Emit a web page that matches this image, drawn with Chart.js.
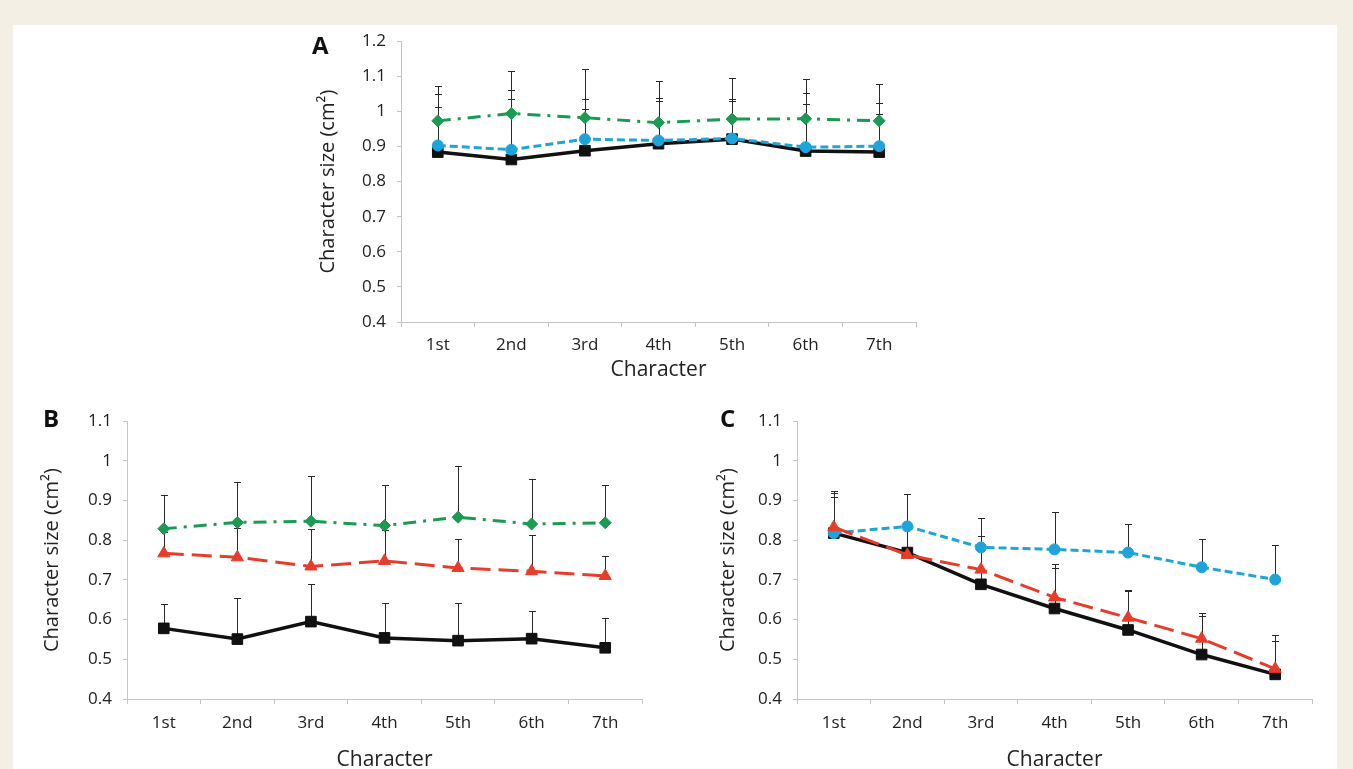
<!DOCTYPE html>
<html>
<head>
<meta charset="utf-8">
<script src="https://cdn.jsdelivr.net/npm/chart.js@4.4.0/dist/chart.umd.min.js"></script>
<style>
  html, body { margin: 0; padding: 0; width: 1353px; height: 769px; overflow: hidden; background: #f3efe5; }
  #panel { position: absolute; left: 13px; top: 25px; width: 1324px; height: 760px; background: #fff; }
  canvas { position: absolute; }
  .tag { position: absolute; font-family: "Open Sans"; font-weight: bold; line-height: 1; color: #111; }
</style>
</head>
<body>
<div id="panel"></div>
<canvas id="chartA" width="630" height="370" style="left:300px;top:20px"></canvas>
<canvas id="chartB" width="640" height="380" style="left:20px;top:400px"></canvas>
<canvas id="chartC" width="640" height="380" style="left:700px;top:400px"></canvas>
<div class="tag" style="left:312px;top:33px;font-size:24px">A</div>
<div class="tag" style="left:43px;top:406px;font-size:24px">B</div>
<div class="tag" style="left:720px;top:406px;font-size:24px">C</div>
<script>
const categories = ['1st', '2nd', '3rd', '4th', '5th', '6th', '7th'];

// panel A
const aBlack = [0.884, 0.863, 0.888, 0.908, 0.921, 0.887, 0.884];
const aBlackSd = [0.129, 0.173, 0.120, 0.122, 0.110, 0.133, 0.110];
const aBlue = [0.903, 0.891, 0.921, 0.917, 0.923, 0.898, 0.901];
const aBlueSd = [0.147, 0.169, 0.115, 0.122, 0.111, 0.155, 0.124];
const aGreen = [0.973, 0.994, 0.982, 0.968, 0.978, 0.979, 0.973];
const aGreenSd = [0.098, 0.120, 0.140, 0.120, 0.116, 0.113, 0.104];

// panel B
const bBlack = [0.578, 0.551, 0.595, 0.554, 0.547, 0.552, 0.529];
const bBlackSd = [0.061, 0.104, 0.096, 0.088, 0.095, 0.071, 0.076];
const bRed = [0.767, 0.757, 0.734, 0.748, 0.730, 0.722, 0.710];
const bRedSd = [0.053, 0.073, 0.095, 0.077, 0.072, 0.090, 0.051];
const bGreen = [0.829, 0.845, 0.848, 0.837, 0.858, 0.841, 0.844];
const bGreenSd = [0.086, 0.103, 0.115, 0.101, 0.129, 0.114, 0.094];

// panel C
const cBlack = [0.818, 0.769, 0.689, 0.628, 0.574, 0.512, 0.462];
const cBlackSd = [0.092, 0.061, 0.091, 0.101, 0.098, 0.098, 0.083];
const cRed = [0.833, 0.763, 0.726, 0.656, 0.605, 0.552, 0.476];
const cRedSd = [0.092, 0.072, 0.084, 0.084, 0.070, 0.065, 0.086];
const cBlue = [0.818, 0.835, 0.782, 0.777, 0.769, 0.732, 0.701];
const cBlueSd = [0.102, 0.082, 0.074, 0.095, 0.072, 0.072, 0.088];

const axisColor = '#c4c4c4';
const fontFamily = '"Open Sans", sans-serif';

const styles = {
  black: { color: '#111111', dash: [], point: 'rect', radius: 7.5, width: 3.5 },
  blue: { color: '#1fa4d9', dash: [8, 4], point: 'circle', radius: 5.5, width: 3 },
  green: { color: '#1a9a52', dash: [13, 7, 3, 7], point: 'rectRot', radius: 6, width: 3 },
  red: { color: '#e63d2b', dash: [20, 8], point: 'triangle', radius: 7, width: 3 }
};

const series = (name, values, sd) => {
  const s = styles[name];
  return {
    data: values,
    errors: sd,
    borderColor: s.color,
    backgroundColor: s.color,
    borderWidth: s.width,
    borderDash: s.dash,
    pointStyle: s.point,
    pointRadius: s.radius,
    pointBorderWidth: 1,
    tension: 0
  };
};

// upward error bars, drawn under the lines
const errorBars = {
  id: 'errorBars',
  beforeDatasetsDraw(chart) {
    const ctx = chart.ctx;
    const yScale = chart.scales.y;
    ctx.save();
    ctx.strokeStyle = '#2a2a2a';
    ctx.lineWidth = 1;
    chart.data.datasets.forEach((ds, i) => {
      chart.getDatasetMeta(i).data.forEach((pt, j) => {
        const x = Math.round(pt.x) + 0.5;
        const top = Math.round(yScale.getPixelForValue(ds.data[j] + ds.errors[j])) + 0.5;
        ctx.beginPath();
        ctx.moveTo(x, pt.y);
        ctx.lineTo(x, top);
        ctx.moveTo(x - 3.5, top);
        ctx.lineTo(x + 3.5, top);
        ctx.stroke();
      });
    });
    ctx.restore();
  }
};

const makeChart = (id, sets, yMin, yMax, box) => {
  return new Chart(document.getElementById(id), {
    type: 'line',
    data: { labels: categories, datasets: sets },
    options: {
      responsive: false,
      animation: false,
      events: [],
      layout: { padding: { top: box.top, right: box.right, left: 0, bottom: 0 } },
      plugins: { legend: { display: false }, tooltip: { enabled: false } },
      scales: {
        x: {
          offset: true,
          grid: { offset: true, drawOnChartArea: false, tickLength: 5, color: axisColor },
          border: { color: axisColor },
          ticks: { font: { family: fontFamily, size: 17 }, color: '#222', padding: box.xPad },
          title: {
            display: true, text: 'Character', color: '#222',
            font: { family: fontFamily, size: 21 }, padding: { top: 0, bottom: 7 }
          },
          afterFit: s => { s.height = box.xh; }
        },
        y: {
          min: yMin,
          max: yMax,
          grid: { drawOnChartArea: false, tickLength: 4, color: axisColor },
          border: { color: axisColor },
          ticks: {
            stepSize: 0.1, color: '#222', padding: 11,
            font: { family: fontFamily, size: 17 },
            callback: v => String(Math.round(v * 10) / 10)
          },
          title: {
            display: true, text: 'Character size (cm²)', color: '#222',
            font: { family: fontFamily, size: 20 }, padding: { top: box.yt, bottom: 0 }
          },
          afterFit: s => { s.width = box.yw; }
        }
      }
    },
    plugins: [errorBars]
  });
};

makeChart('chartA',
  [series('blue', aBlue, aBlueSd), series('black', aBlack, aBlackSd), series('green', aGreen, aGreenSd)],
  0.4, 1.2, { top: 17, right: 14, yw: 101, xh: 68, xPad: 8, yt: 16 });

makeChart('chartB',
  [series('black', bBlack, bBlackSd), series('red', bRed, bRedSd), series('green', bGreen, bGreenSd)],
  0.4, 1.1, { top: 15, right: 18, yw: 107, xh: 81, xPad: 9, yt: 20 });

makeChart('chartC',
  [series('red', cRed, cRedSd), series('blue', cBlue, cBlueSd), series('black', cBlack, cBlackSd)],
  0.4, 1.1, { top: 15, right: 28, yw: 97, xh: 81, xPad: 9, yt: 16 });
</script>
</body>
</html>
